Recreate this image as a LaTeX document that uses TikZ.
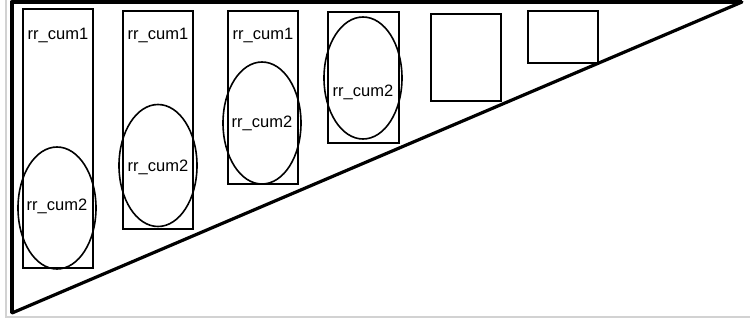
\documentclass[tikz,border=0pt]{standalone}
\usepackage{fontspec}
\setmainfont{Liberation Sans}
\usetikzlibrary{positioning,shapes.geometric}

\begin{document}
\begin{tikzpicture}[
    x=1pt, y=-1pt,
    box/.style={rectangle, draw, line width=1.2pt, inner sep=0pt},
    oval/.style={ellipse, draw, line width=1.6pt, inner sep=0pt,
        minimum width=78pt, minimum height=122pt},
    lbl/.style={font=\fontsize{16.5}{19}\selectfont, inner sep=0pt}
]
    \useasboundingbox (0,0) rectangle (750,324);
    % page frame and the big triangle
    \draw[gray!35, line width=1.2pt] (6,0) -- (6,317) -- (750,317);
    \draw[line width=4pt, line join=round] (742,2) -- (11.5,2) -- (11.5,313);
    \draw[line width=3.2pt, line cap=round] (12,313) -- (742,2);

    % the columns
    \node[box, minimum width=70pt, minimum height=259pt] (col1) at (58,138.5) {};
    \node[box, minimum width=70pt, minimum height=218pt] (col2) at (158,120) {};
    \node[box, minimum width=70pt, minimum height=173pt] (col3) at (263,97.5) {};
    \node[box, minimum width=71pt, minimum height=131pt] (col4) at (363.5,77.5) {};
    \node[box, minimum width=70pt, minimum height=87pt] (col5) at (466,57.5) {};
    \node[box, minimum width=70pt, minimum height=52pt] (col6) at (563,37) {};

    % second level
    \node[oval] (ov1) at (57,208) {};
    \node[oval] (ov2) at (158,165.5) {};
    \node[oval] (ov3) at (262,123) {};
    \node[oval] (ov4) at (363,78) {};

    \node[lbl] (top1) at (58,35) {rr\_cum1};
    \node[lbl] (top2) at (158,35) {rr\_cum1};
    \node[lbl] (top3) at (263,35) {rr\_cum1};
    \node[lbl] (in1) at (57,206) {rr\_cum2};
    \node[lbl] (in2) at (158,167) {rr\_cum2};
    \node[lbl] (in3) at (262,123) {rr\_cum2};
    \node[lbl] (in4) at (363,92) {rr\_cum2};
\end{tikzpicture}
\end{document}
